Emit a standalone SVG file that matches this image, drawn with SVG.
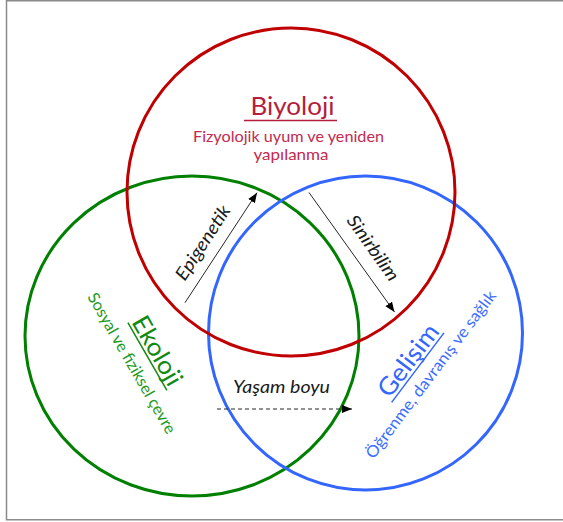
<svg xmlns="http://www.w3.org/2000/svg" width="563" height="522" viewBox="0 0 563 522">
<style>
.ring{fill:none;stroke-width:3}
.t{font-family:Lato,"Open Sans",sans-serif}
.title{font-size:25px}
.sub{font-size:16px}
.lab{font-size:18px;font-style:italic;fill:#1a1a1a}
.conn{stroke:#262626;stroke-width:1;fill:none}
</style>
<defs>
<marker id="ah" viewBox="0 0 10 10" refX="10" refY="5" markerWidth="10" markerHeight="10" markerUnits="userSpaceOnUse" orient="auto">
<path d="M0,1 L10,5 L0,9 Z" fill="#000"/>
</marker>
</defs>
<rect x="0" y="0" width="563" height="522" fill="#fff"/>
<rect x="6.5" y="0.75" width="600" height="519" fill="none" stroke="#8a8a8a" stroke-width="1.5"/>

<g id="ekoloji">
<ellipse class="ring" cx="192" cy="336" rx="167" ry="160" stroke="#008000"/>
<g transform="translate(150,355) rotate(60)">
<text class="t title" x="0" y="0" text-anchor="middle" textLength="76" lengthAdjust="spacingAndGlyphs" fill="#118A11">Ekoloji</text>
<line x1="-39" y1="3" x2="39" y2="3" stroke="#118A11" stroke-width="1.5"/>
<text class="t sub" x="-2" y="25.4" text-anchor="middle" textLength="160" lengthAdjust="spacingAndGlyphs" fill="#229A22">Sosyal ve fiziksel çevre</text>
</g>
</g>

<g id="gelisim">
<circle class="ring" cx="365.5" cy="333" r="157" stroke="#3366FF"/>
<g transform="translate(415,365.5) rotate(-53)">
<text class="t title" x="0" y="0" text-anchor="middle" textLength="84" lengthAdjust="spacingAndGlyphs" fill="#3366FF">Gelişim</text>
<line x1="-43.5" y1="3.5" x2="43.5" y2="3.5" stroke="#3366FF" stroke-width="1.5"/>
<text class="t sub" x="2.3" y="23.5" text-anchor="middle" textLength="205" lengthAdjust="spacingAndGlyphs" fill="#3D6DFF">Öğrenme, davranış ve sağlık</text>
</g>
</g>

<g id="biyoloji">
<circle class="ring" cx="291" cy="192" r="164" stroke="#C00000"/>
<text class="t title" x="292.5" y="115" text-anchor="middle" textLength="84" lengthAdjust="spacingAndGlyphs" fill="#B41E3C">Biyoloji</text>
<line x1="244" y1="120.5" x2="337" y2="120.5" stroke="#B41E3C" stroke-width="1.5"/>
<text class="t sub" x="288.5" y="141.5" text-anchor="middle" textLength="191" lengthAdjust="spacingAndGlyphs" fill="#C42A4E">Fizyolojik uyum ve yeniden</text>
<text class="t sub" x="291" y="160" text-anchor="middle" textLength="75" lengthAdjust="spacingAndGlyphs" fill="#C42A4E">yapılanma</text>
</g>

<g id="connectors">
<line class="conn" x1="185" y1="302.7" x2="257" y2="192.7" marker-end="url(#ah)"/>
<text class="t lab" transform="translate(208,246) rotate(-57)" text-anchor="middle" textLength="85" lengthAdjust="spacingAndGlyphs">Epigenetik</text>
<line class="conn" x1="309" y1="192.5" x2="394.5" y2="312" marker-end="url(#ah)"/>
<text class="t lab" transform="translate(368,251.5) rotate(54.7)" text-anchor="middle" textLength="76" lengthAdjust="spacingAndGlyphs">Sinirbilim</text>
<line class="conn" x1="217" y1="409" x2="352" y2="409" stroke-dasharray="4,3" marker-end="url(#ah)"/>
<text class="t lab" x="281.5" y="393" text-anchor="middle" textLength="97" lengthAdjust="spacingAndGlyphs">Yaşam boyu</text>
</g>
</svg>
